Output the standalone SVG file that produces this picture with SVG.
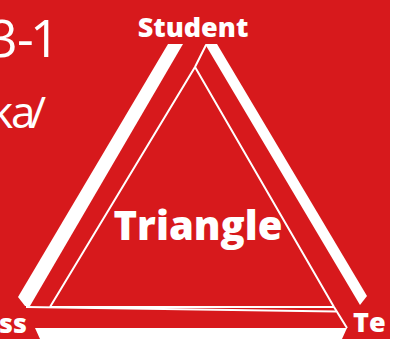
<svg xmlns="http://www.w3.org/2000/svg" width="407" height="339" viewBox="0 0 407 339">
<style>
.bar{fill:#fff;stroke:none}
.thin{fill:none;stroke:#fff;stroke-width:2}
.lbl{font-family:"Open Sans","DejaVu Sans",sans-serif;font-weight:800;fill:#fff}
.cap{font-family:"Open Sans","DejaVu Sans",sans-serif;fill:#fff}
</style>
<rect x="0" y="0" width="407" height="339" fill="#fff"/>
<rect x="0" y="0" width="390" height="339" fill="#d7191c"/>
<g id="caption">
<text class="cap" x="-12 17 30" y="57" font-size="52">3-1</text>
<text class="cap" x="-10 11 30" y="128" font-size="44">ka/</text>
</g>
<g id="connectors">
<polygon class="bar" points="168,44 183,44 30,306 25,306 18,297"/>
<polygon class="bar" points="205,44 217,44 367,296 360,305"/>
<polygon class="bar" points="35,328 347,328 342,339 40,339"/>
<polyline class="thin" points="206,45 195,67 50,307"/>
<polyline class="thin" points="195,67 334,307 347,328"/>
<line class="thin" x1="50" y1="307" x2="334" y2="307"/>
<line class="thin" x1="26" y1="307" x2="336" y2="311.5"/>
</g>
<g id="student"><text class="lbl" x="193" y="37" font-size="27" text-anchor="middle">Student</text></g>
<g id="triangle"><text class="lbl" x="198" y="240" font-size="40" text-anchor="middle">Triangle</text></g>
<g id="class"><text class="lbl" x="27" y="333" font-size="27" text-anchor="end">ss</text></g>
<g id="teacher"><text class="lbl" x="353" y="332" font-size="27">Te</text></g>
</svg>
